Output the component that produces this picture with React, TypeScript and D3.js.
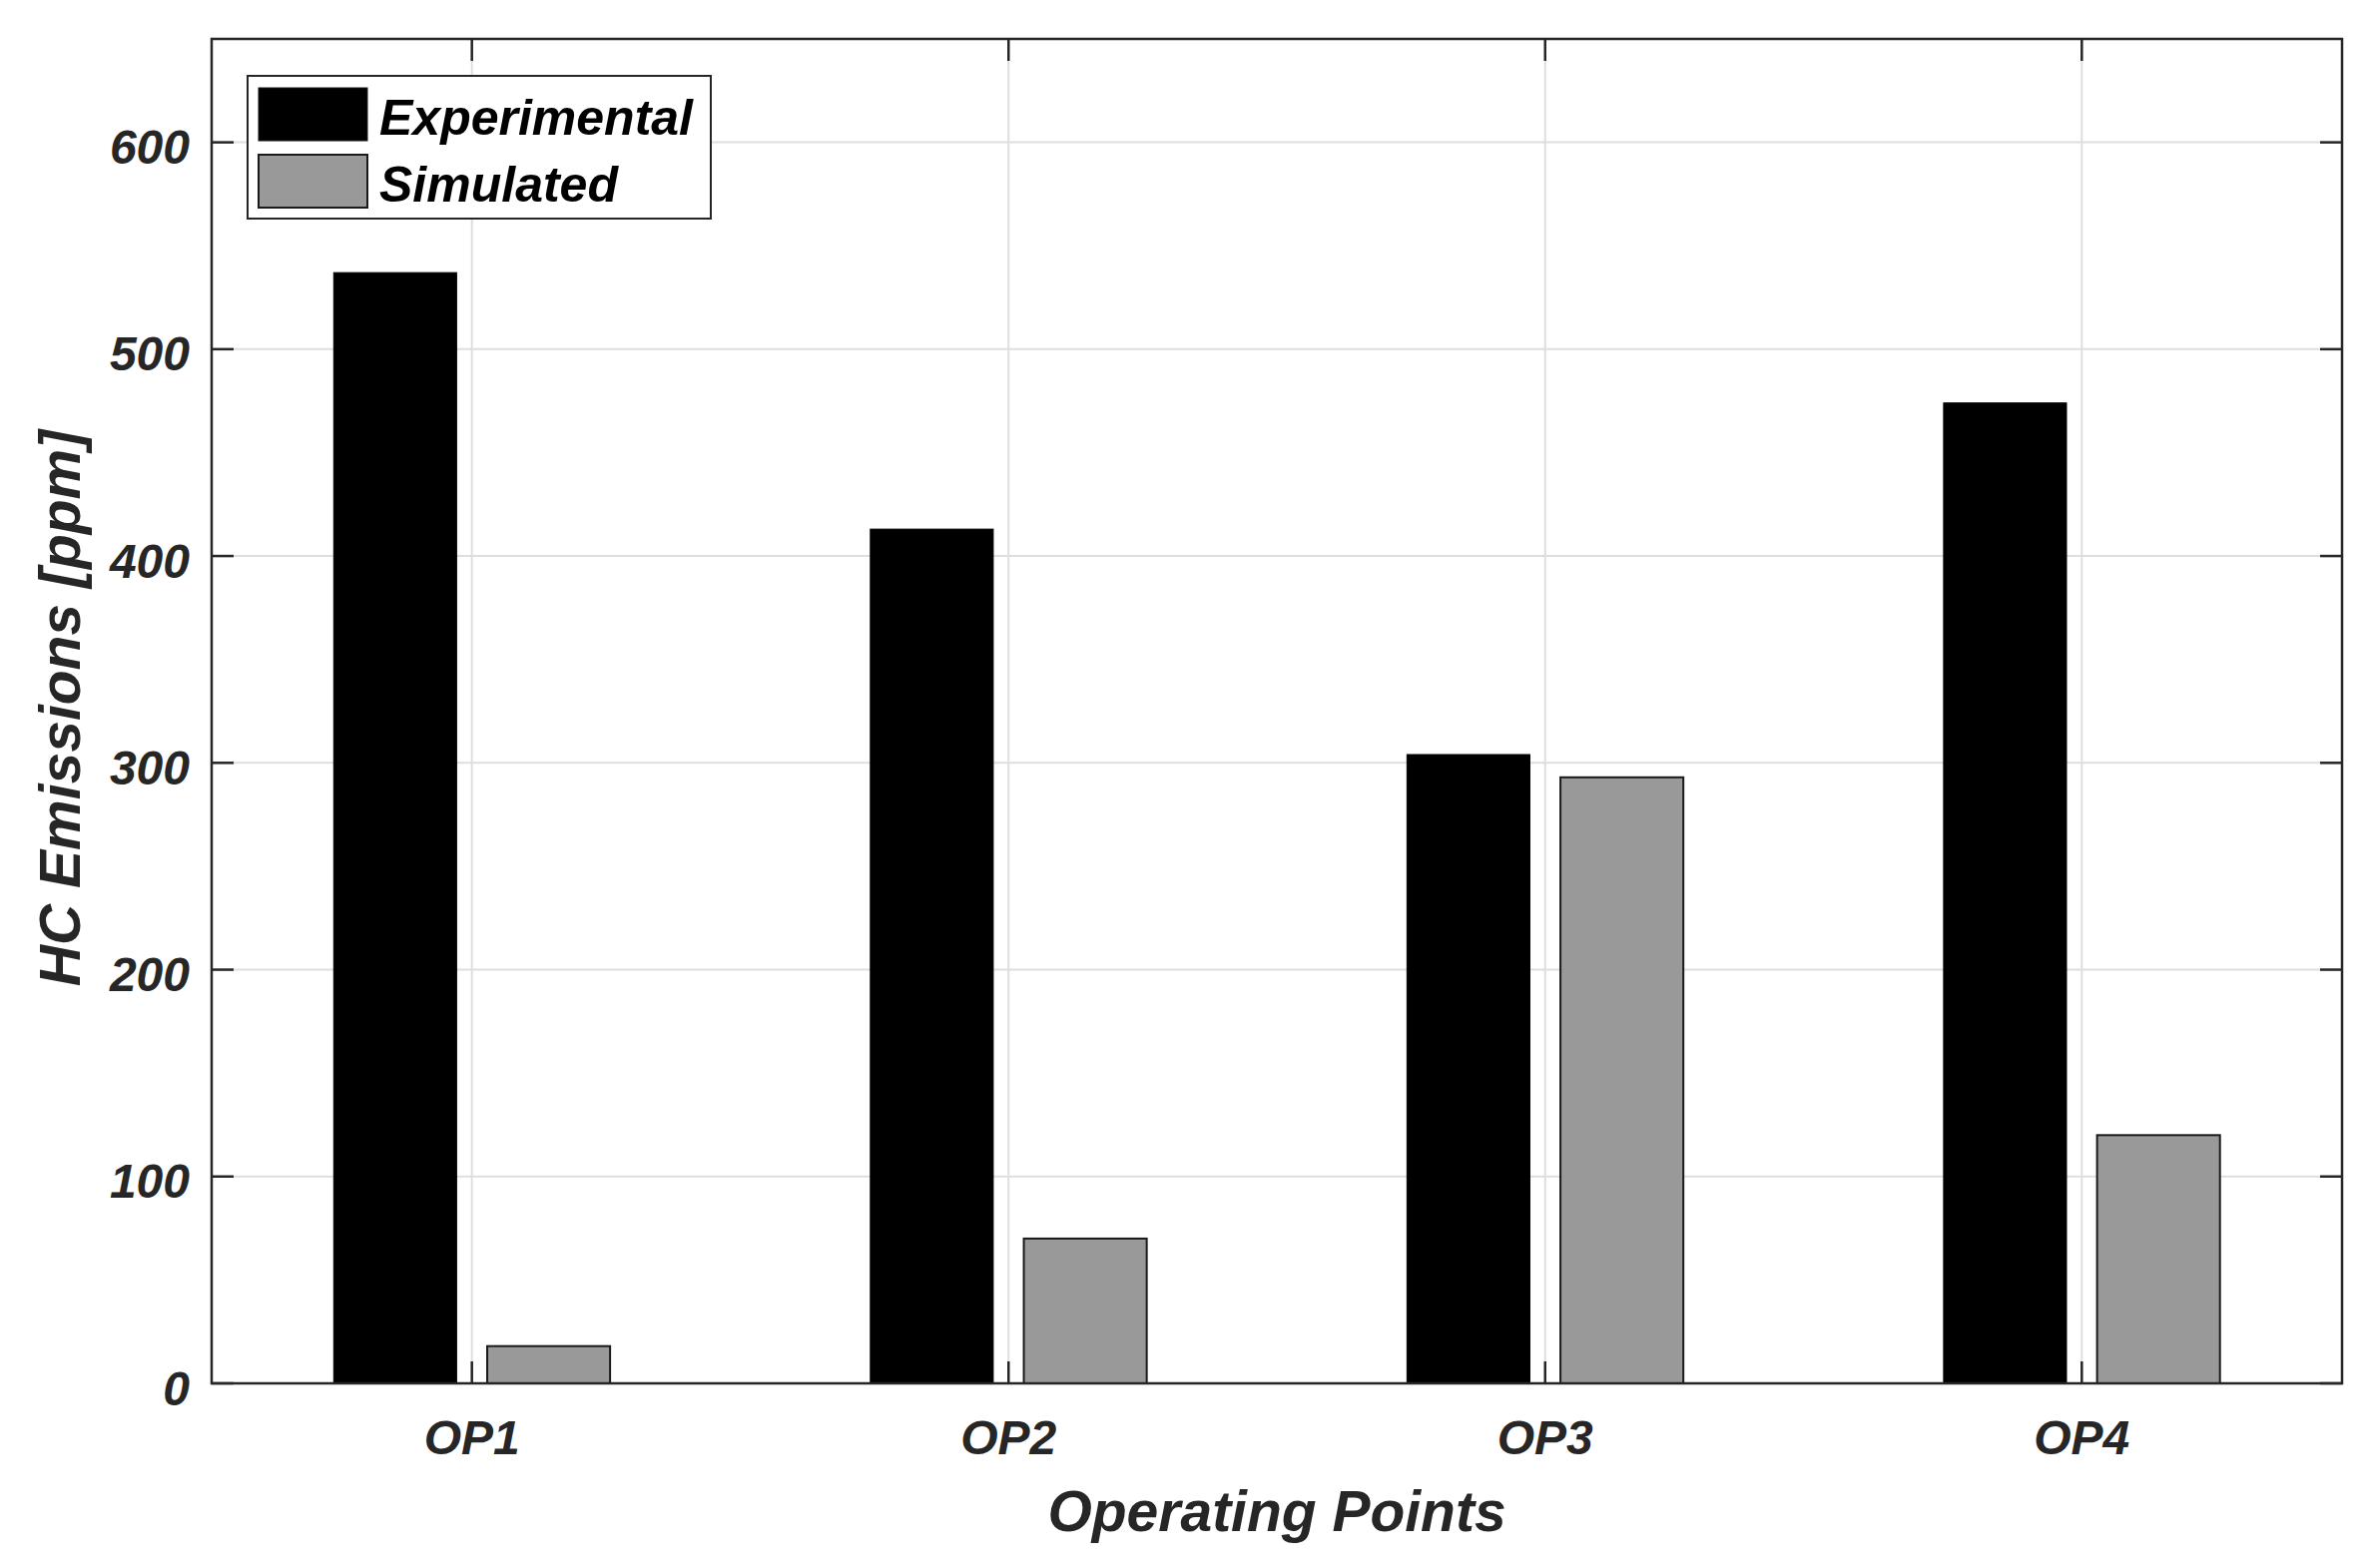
import * as d3 from "d3";

// values (ppm)
const categories = ["OP1", "OP2", "OP3", "OP4"];
const experimental = [537, 413, 304, 474];
const simulated = [18, 70, 293, 120];
const yTicks = [0, 100, 200, 300, 400, 500, 600];

const seriesNames = ["Experimental", "Simulated"];
const seriesColors = ["#000000", "#999999"];

const W = 2375;
const H = 1571;
const margin = { left: 212, right: 2346, top: 39, bottom: 1386 };

const font = "'Liberation Sans', Arial, Helvetica, sans-serif";
const axisColor = "#262626";
const gridColor = "#dedede";

export default function App() {
  const x = d3.scaleLinear().domain([0.515, 4.485]).range([margin.left, margin.right]);
  const y = d3.scaleLinear().domain([0, 650]).range([margin.bottom, margin.top]);

  const barW = 0.229;
  const offset = 0.143;
  const series = [experimental, simulated];
  const tickLen = 22;

  return (
    <svg
      width={W}
      height={H}
      style={{ position: "absolute", left: 0, top: 0, background: "#fff" }}
    >
      <rect x={0} y={0} width={W} height={H} fill="#fff" />

      {/* grid */}
      <g stroke={gridColor} strokeWidth={2}>
        {yTicks.map((t) => (
          <line key={"gy" + t} x1={margin.left} x2={margin.right} y1={y(t)} y2={y(t)} />
        ))}
        {categories.map((c, i) => (
          <line key={"gx" + c} x1={x(i + 1)} x2={x(i + 1)} y1={margin.top} y2={margin.bottom} />
        ))}
      </g>

      {/* bars */}
      {series.map((vals, s) => (
        <g key={seriesNames[s]}>
          {vals.map((v, i) => {
            const cx = x(i + 1 + (s === 0 ? -offset : offset));
            const w = x(barW) - x(0);
            return (
              <rect
                key={i}
                x={cx - w / 2}
                y={y(v)}
                width={w}
                height={y(0) - y(v)}
                fill={seriesColors[s]}
                stroke={s === 0 ? "#000" : "#1a1a1a"}
                strokeWidth={s === 0 ? 1 : 2}
              />
            );
          })}
        </g>
      ))}

      {/* box and ticks */}
      <rect
        x={margin.left}
        y={margin.top}
        width={margin.right - margin.left}
        height={margin.bottom - margin.top}
        fill="none"
        stroke={axisColor}
        strokeWidth={2.5}
      />
      <g stroke={axisColor} strokeWidth={2.5}>
        {yTicks.map((t) => (
          <g key={"ty" + t}>
            <line x1={margin.left} x2={margin.left + tickLen} y1={y(t)} y2={y(t)} />
            <line x1={margin.right} x2={margin.right - tickLen} y1={y(t)} y2={y(t)} />
          </g>
        ))}
        {categories.map((c, i) => (
          <g key={"tx" + c}>
            <line x1={x(i + 1)} x2={x(i + 1)} y1={margin.bottom} y2={margin.bottom - tickLen} />
            <line x1={x(i + 1)} x2={x(i + 1)} y1={margin.top} y2={margin.top + tickLen} />
          </g>
        ))}
      </g>

      {/* tick labels */}
      <g
        fontFamily={font}
        fontWeight="bold"
        fontStyle="italic"
        fontSize={48}
        fill={axisColor}
      >
        {yTicks.map((t) => (
          <text key={"ly" + t} x={190} y={y(t)} dy="0.45em" textAnchor="end">
            {t}
          </text>
        ))}
        {categories.map((c, i) => (
          <text key={"lx" + c} x={x(i + 1)} y={1457} textAnchor="middle">
            {c}
          </text>
        ))}
      </g>

      {/* axis labels */}
      <g fontFamily={font} fontWeight="bold" fontStyle="italic" fontSize={57} fill={axisColor}>
        <text x={(margin.left + margin.right) / 2} y={1534} textAnchor="middle">
          Operating Points
        </text>
        <text
          transform={`translate(80, ${(margin.top + margin.bottom) / 2 - 3}) rotate(-90)`}
          textAnchor="middle"
        >
          HC Emissions [ppm]
        </text>
      </g>

      {/* legend */}
      <g>
        <rect x={248} y={76} width={464} height={143} fill="#fff" stroke={axisColor} strokeWidth={2} />
        {seriesNames.map((n, s) => (
          <g key={n}>
            <rect
              x={259}
              y={88 + s * 67}
              width={109}
              height={53}
              fill={seriesColors[s]}
              stroke="#1a1a1a"
              strokeWidth={s === 0 ? 1 : 2}
            />
            <text
              x={380}
              y={135 + s * 67}
              fontFamily={font}
              fontWeight="bold"
              fontStyle="italic"
              fontSize={50}
              fill="#000"
            >
              {n}
            </text>
          </g>
        ))}
      </g>
    </svg>
  );
}
